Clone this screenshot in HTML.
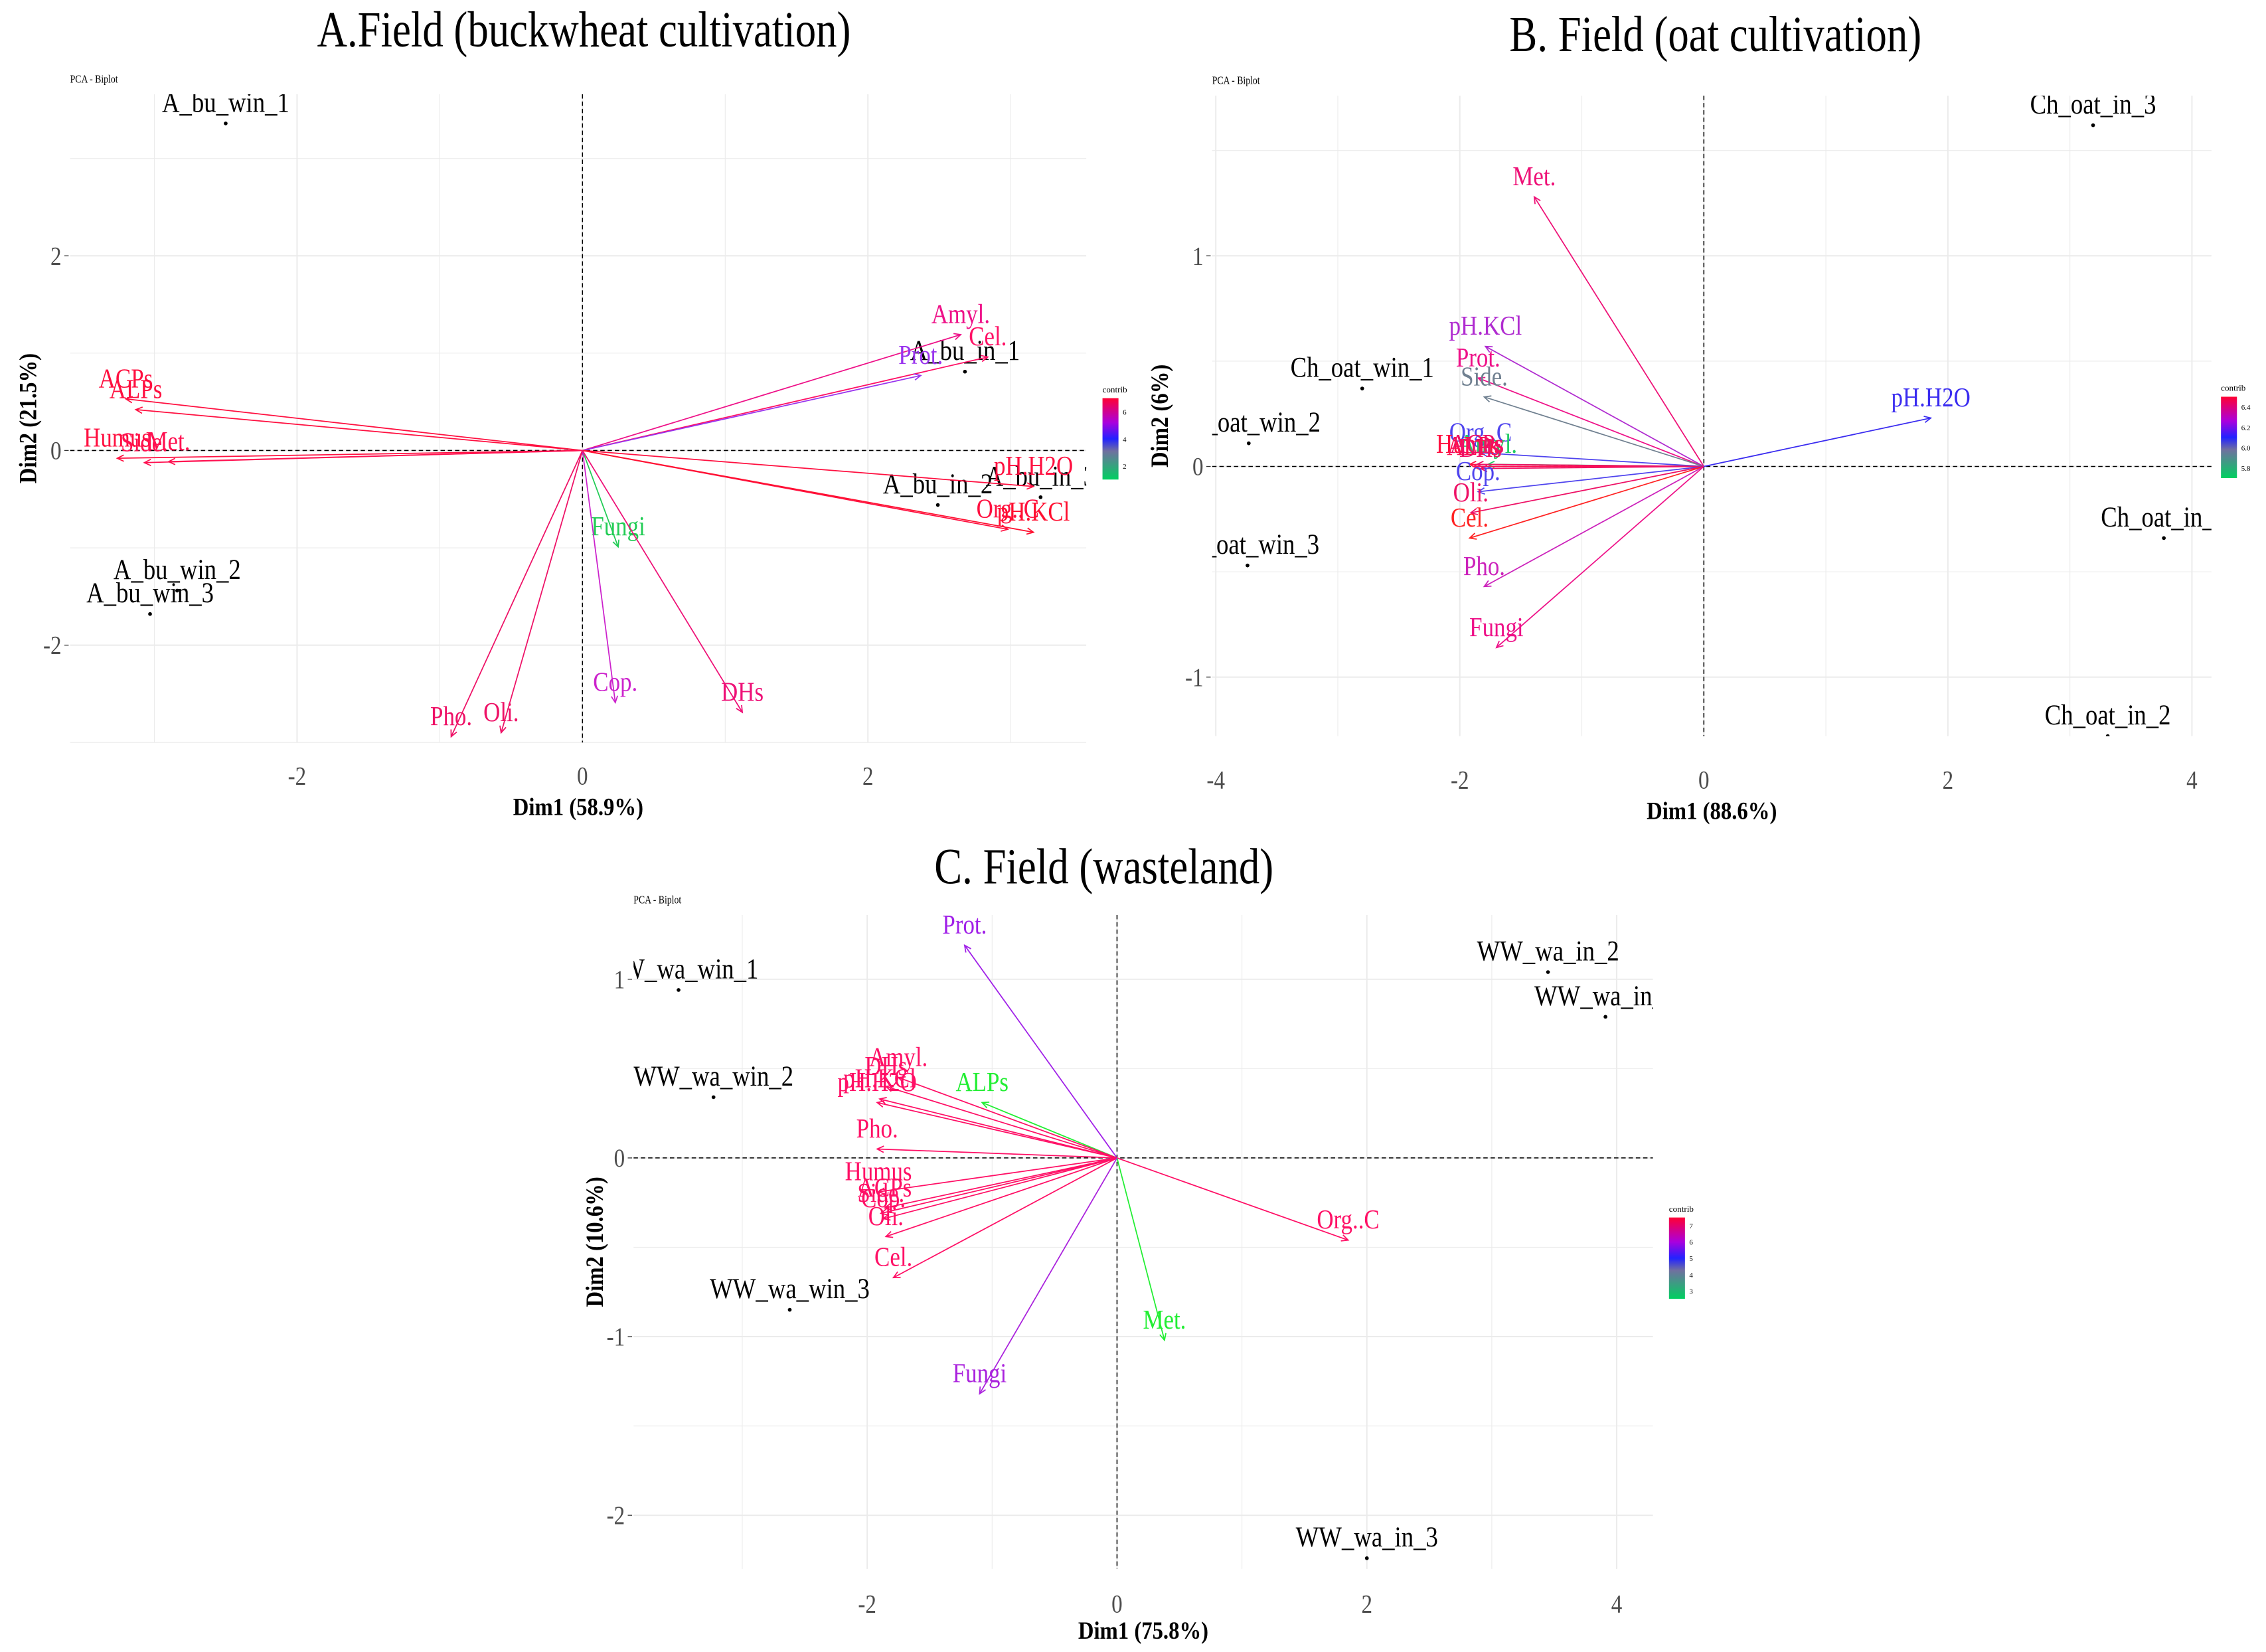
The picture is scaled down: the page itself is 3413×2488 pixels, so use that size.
<!DOCTYPE html>
<html><head><meta charset="utf-8"><style>
html,body{margin:0;padding:0;background:#fff}
svg{display:block}
text{font-family:"Liberation Serif",serif}
</style></head><body>
<svg id="fig" xmlns="http://www.w3.org/2000/svg" width="3413" height="2488" viewBox="0 0 1560 1137">
<rect width="1560" height="1137" fill="#fff"/>
</svg>
<script>
// ---------- Panel A data ----------
const aVarNames = ["ACPs","ALPs","Humus","Side.","Met.","Amyl.","Cel.","Prot.","pH.H2O","Org..C","pH.KCl","Fungi","Cop.","DHs","Pho.","Oli."];
const aVarX = [-3.20,-3.13,-3.26,-3.07,-2.90,2.65,2.84,2.37,3.16,2.98,3.16,0.25,0.23,1.12,-0.92,-0.57];
const aVarY = [0.53,0.42,-0.08,-0.125,-0.115,1.19,0.96,0.77,-0.37,-0.81,-0.84,-0.99,-2.59,-2.69,-2.94,-2.90];
const aVarCol = ["#FF1040","#FF1040","#FF1040","#FF1050","#FF1050","#EE1188","#FF1166","#9933EE","#FF1040","#FF1040","#FF1030","#22CC55","#CC22CC","#EE1177","#EE1166","#EE1166"];
const aIndNames = ["A_bu_win_1","A_bu_in_1","A_bu_in_2","A_bu_in_3","A_bu_win_2","A_bu_win_3"];
const aIndX = [-2.50,2.68,2.49,3.21,-2.84,-3.03];
const aIndY = [3.36,0.81,-0.56,-0.48,-1.44,-1.68];
const aTicksX = [-2,0,2], aTicksY = [-2,0,2];
// ---------- Panel B data ----------
const bVarNames = ["Met.","pH.KCl","Prot.","Side.","Org..C","Amyl.","Humus","ALPs","ACPs","DHs","Cop.","Oli.","Cel.","Pho.","Fungi","pH.H2O"];
const bVarX = [-1.39,-1.79,-1.85,-1.80,-1.83,-1.77,-1.92,-1.89,-1.86,-1.83,-1.85,-1.91,-1.92,-1.80,-1.70,1.86];
const bVarY = [1.28,0.57,0.42,0.33,0.065,0.01,0.01,0.0,0.01,-0.01,-0.12,-0.22,-0.34,-0.57,-0.86,0.23];
const bVarCol = ["#EE1177","#B02CD0","#EE1188","#708090","#4F44EE","#22CC66","#FF1040","#FF1050","#EE1166","#EE1166","#4F44EE","#EE1166","#FF2222","#CC22BB","#EE1188","#3A2CF0"];
const bIndNames = ["Ch_oat_in_3","Ch_oat_in_1","Ch_oat_in_2","Ch_oat_win_1","Ch_oat_win_2","Ch_oat_win_3"];
const bIndX = [3.19,3.77,3.31,-2.80,-3.73,-3.74];
const bIndY = [1.62,-0.34,-1.28,0.37,0.11,-0.47];
const bTicksX = [-4,-2,0,2,4], bTicksY = [-1,0,1];
// ---------- Panel C data ----------
const cVarNames = ["Prot.","ALPs","Amyl.","DHs","pH.KCl","pH.H2O","Pho.","Humus","ACPs","Side.","Cop.","Oli.","Cel.","Org..C","Met.","Fungi"];
const cVarX = [-1.22,-1.08,-1.75,-1.85,-1.90,-1.92,-1.92,-1.91,-1.86,-1.89,-1.87,-1.85,-1.79,1.85,0.38,-1.10];
const cVarY = [1.19,0.31,0.45,0.40,0.33,0.31,0.05,-0.19,-0.28,-0.31,-0.34,-0.44,-0.67,-0.46,-1.02,-1.32];
const cVarCol = ["#A020E8","#22EE33","#FF1066","#FF1066","#FF1066","#FF1066","#FF1066","#FF1066","#FF1066","#FF1066","#FF1066","#FF1066","#FF1066","#FF1066","#22EE33","#AA22DD"];
const cIndNames = ["WW_wa_win_1","WW_wa_win_2","WW_wa_win_3","WW_wa_in_2","WW_wa_in_1","WW_wa_in_3"];
const cIndX = [-3.51,-3.23,-2.62,3.45,3.91,2.0];
const cIndY = [0.94,0.34,-0.85,1.04,0.79,-2.24];
const cTicksX = [-2,0,2,4], cTicksY = [-2,-1,0,1];

const NS="http://www.w3.org/2000/svg";
const svg=document.getElementById('fig');
function mk(tag,attrs,parent){const e=document.createElementNS(NS,tag);for(const k in attrs)e.setAttribute(k,attrs[k]);(parent||svg).appendChild(e);return e;}
function txt(s,attrs,parent){const e=mk('text',attrs,parent);e.textContent=s;return e;}
// condensed text (tall narrow look of reference)
function ctxt(s,x,y,attrs,parent,sx){
  const a=Object.assign({x:0,y:0,transform:`translate(${x},${y}) scale(${sx||0.84},1)`},attrs);
  return txt(s,a,parent);
}

function panel(p){
  const g=mk('g',{});
  
  
  const X=v=>p.ox+v*p.sx, Y=v=>p.oy-v*p.sy;
  const L=X(p.xmin),R=X(p.xmax),T=Y(p.ymax),B=Y(p.ymin);
  const cid='clip-'+p.id;
  const cp=mk('clipPath',{id:cid},g);mk('rect',{x:L,y:T,width:R-L,height:B-T},cp);
  const grid=mk('g',{},g);
  
  
  for(let v=Math.ceil(p.xmin/p.minorX)*p.minorX; v<=p.xmax; v+=p.minorX){
    const major=p.ticksX.some(t=>Math.abs(t-v)<1e-6);
    mk('line',{x1:X(v),x2:X(v),y1:T,y2:B,stroke:'#ebebeb','stroke-width':major?0.9:0.5},grid);
  }
  for(let v=Math.ceil(p.ymin/p.minorY)*p.minorY; v<=p.ymax; v+=p.minorY){
    const major=p.ticksY.some(t=>Math.abs(t-v)<1e-6);
    mk('line',{x1:L,x2:R,y1:Y(v),y2:Y(v),stroke:'#ebebeb','stroke-width':major?0.9:0.5},grid);
  }
  mk('line',{x1:L,x2:R,y1:Y(0),y2:Y(0),stroke:'#000','stroke-width':0.7,'stroke-dasharray':'3,2'},g);
  mk('line',{x1:X(0),x2:X(0),y1:T,y2:B,stroke:'#000','stroke-width':0.7,'stroke-dasharray':'3,2'},g);
  p.ticksX.forEach(t=>{
    const e=ctxt(String(t),X(t),B+p.tickOff,{'font-size':18,'text-anchor':'middle',fill:'#4d4d4d'},g);
    
    
  });
  p.ticksY.forEach(t=>{
    const e=ctxt(String(t),L-6,Y(t)+6,{'font-size':18,'text-anchor':'end',fill:'#4d4d4d'},g);
    
    
    mk('line',{x1:L-4,x2:L-1,y1:Y(t),y2:Y(t),stroke:'#333','stroke-width':0.6},g);
  });
  const cg=mk('g',{'clip-path':'url(#'+cid+')'},g);
  p.indN.forEach((n,i)=>{
    const d=mk('circle',{cx:X(p.indX[i]),cy:Y(p.indY[i]),r:1.3,fill:'#000'},cg);
    
    
    const t=ctxt(n,X(p.indX[i]),Y(p.indY[i])-8,{'font-size':20,'text-anchor':'middle',fill:'#000'},cg);
    
    
  });
  p.varN.forEach((n,i)=>{
    const x2=X(p.varX[i]),y2=Y(p.varY[i]),x1=X(0),y1=Y(0),c=p.varC[i];
    const ag=mk('g',{},cg);
    
    
    mk('line',{x1,y1,x2,y2,stroke:c,'stroke-width':0.8},ag);
    const a=Math.atan2(y2-y1,x2-x1),h=5,s=0.45;
    mk('polyline',{points:`${x2-h*Math.cos(a-s)},${y2-h*Math.sin(a-s)} ${x2},${y2} ${x2-h*Math.cos(a+s)},${y2-h*Math.sin(a+s)}`,fill:'none',stroke:c,'stroke-width':0.8},ag);
    ctxt(n,x2,y2-8,{'font-size':19,'text-anchor':'middle',fill:c},ag);
  });
  const tt=ctxt(p.title,p.titleX,p.titleY,{'font-size':35,'text-anchor':'middle',fill:'#000'},g,0.82);
  
  
  const sb=ctxt('PCA - Biplot',L,T-8,{'font-size':7.5,fill:'#000'},g);
  
  
  const xt=ctxt(p.xlab,(L+R)/2,B+p.titleOff,{'font-size':17,'font-weight':'bold','text-anchor':'middle'},g,0.88);
  
  
  const yt=txt(p.ylab,{x:0,y:0,'font-size':17,'font-weight':'bold','text-anchor':'middle',transform:`translate(${p.ylabX},${(T+B)/2}) rotate(-90) scale(0.88,1)`},g);
  
  
  const lg=mk('g',{},g);
  
  
  const gid='grad-'+p.id;
  const gr=mk('linearGradient',{id:gid,x1:0,y1:1,x2:0,y2:0},lg);
  [['0','#00D060'],['0.35','#7070A0'],['0.5','#2222FF'],['0.7','#AA00DD'],['1','#FF0033']].forEach(s=>mk('stop',{offset:s[0],'stop-color':s[1]},gr));
  mk('rect',{x:p.legX,y:p.legY,width:11,height:56,fill:`url(#${gid})`},lg);
  txt('contrib',{x:p.legX,y:p.legY-4,'font-size':6},lg);
  p.legTicks.forEach((t,k)=>txt(t,{x:p.legX+14,y:p.legY+56-(k+0.5)*56/p.legTicks.length+2,'font-size':5},lg));
}

panel({id:'panel-a',title:'A.Field (buckwheat cultivation)',titleX:402,titleY:32,
  ox:401,oy:310,sx:98.25,sy:67,xmin:-3.59,xmax:3.53,ymin:-3.0,ymax:3.66,minorX:1,minorY:1,tickOff:29,titleOff:50,
  ticksX:aTicksX,ticksY:aTicksY,varN:aVarNames,varX:aVarX,varY:aVarY,varC:aVarCol,
  indN:aIndNames,indX:aIndX,indY:aIndY,xlab:'Dim1 (58.9%)',ylab:'Dim2 (21.5%)',ylabX:25,
  legX:759,legY:274,legTicks:['2','4','6']});
panel({id:'panel-b',title:'B. Field (oat cultivation)',titleX:1181,titleY:35,
  ox:1173,oy:321,sx:84,sy:145,xmin:-4.03,xmax:4.16,ymin:-1.28,ymax:1.76,minorX:1,minorY:0.5,tickOff:36,titleOff:57,
  ticksX:bTicksX,ticksY:bTicksY,varN:bVarNames,varX:bVarX,varY:bVarY,varC:bVarCol,
  indN:bIndNames,indX:bIndX,indY:bIndY,xlab:'Dim1 (88.6%)',ylab:'Dim2 (6%)',ylabX:804,
  legX:1529,legY:273,legTicks:['5.8','6.0','6.2','6.4']});
panel({id:'panel-c',title:'C. Field (wasteland)',titleX:760,titleY:608,
  ox:769,oy:797,sx:86,sy:123,xmin:-3.87,xmax:4.29,ymin:-2.30,ymax:1.36,minorX:1,minorY:0.5,tickOff:30,titleOff:48,
  ticksX:cTicksX,ticksY:cTicksY,varN:cVarNames,varX:cVarX,varY:cVarY,varC:cVarCol,
  indN:cIndNames,indX:cIndX,indY:cIndY,xlab:'Dim1 (75.8%)',ylab:'Dim2 (10.6%)',ylabX:415,
  legX:1149,legY:838,legTicks:['3','4','5','6','7']});
</script>
</body></html>
